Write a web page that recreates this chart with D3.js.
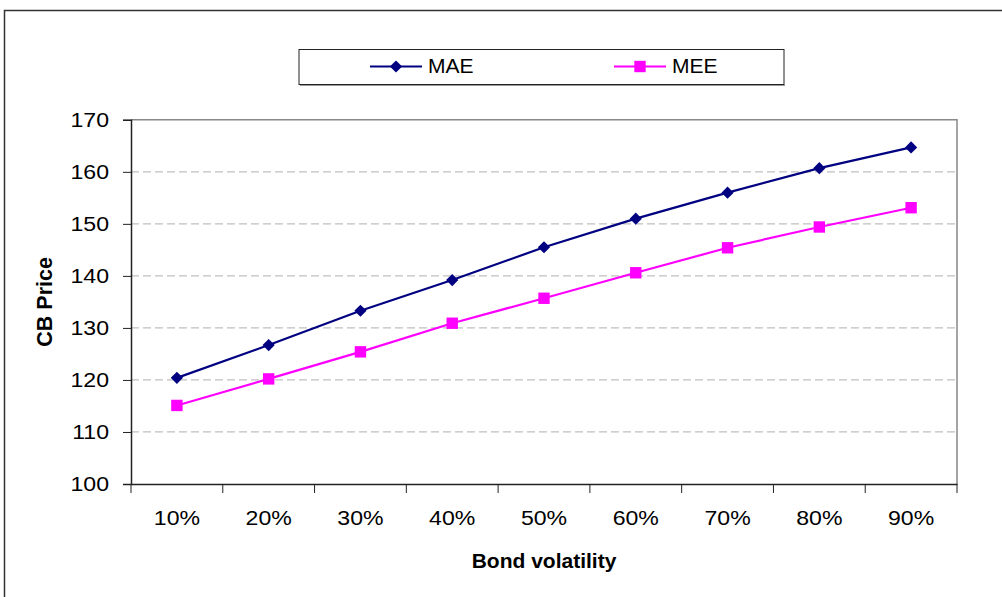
<!DOCTYPE html>
<html>
<head>
<meta charset="utf-8">
<script src="https://cdn.jsdelivr.net/npm/d3@7/dist/d3.min.js"></script>
<style>
  html, body { margin: 0; padding: 0; background: #fff; }
  svg { display: block; font-family: "Liberation Sans", Arial, sans-serif; }
</style>
</head>
<body>
<svg id="chart" width="1002" height="597"></svg>
<script>
// Convertible bond price by bond volatility, two pricing methods
const categories = ["10%", "20%", "30%", "40%", "50%", "60%", "70%", "80%", "90%"];
const maeValues = [120.4, 126.7, 133.3, 139.2, 145.5, 151.0, 156.0, 160.7, 164.7];
const meeValues = [115.1, 120.2, 125.4, 130.9, 135.7, 140.6, 145.4, 149.4, 153.1];
const yTicks = [100, 110, 120, 130, 140, 150, 160, 170];

const series = [
  { name: "MAE", values: maeValues, color: "#000080", symbol: d3.symbolDiamond2, size: 95 },
  { name: "MEE", values: meeValues, color: "#FF00FF", symbol: d3.symbolSquare, size: 130 }
];

const svg = d3.select("#chart");
const plot = { left: 131, right: 957, top: 119.8, bottom: 484 };

// Outer chart frame (runs off the right and bottom edges)
svg.append("rect")
  .attr("x", 4.5).attr("y", 10.5)
  .attr("width", 1010).attr("height", 600)
  .attr("fill", "none").attr("stroke", "#333").attr("stroke-width", 1.5);

const x = d3.scaleBand().domain(categories).range([plot.left, plot.right]).padding(0);
const y = d3.scaleLinear().domain([100, 170]).range([plot.bottom, plot.top]);

// Dashed horizontal gridlines
svg.append("g")
  .selectAll("line")
  .data(yTicks.filter(t => t > 100 && t < 170))
  .join("line")
  .attr("x1", plot.left).attr("x2", plot.right)
  .attr("y1", d => y(d)).attr("y2", d => y(d))
  .attr("stroke", "#c0c0c0").attr("stroke-width", 1.2)
  .attr("stroke-dasharray", "8,4");

// Plot area border: top and right edges
svg.append("path")
  .attr("d", `M${plot.left},${plot.top}H${plot.right}V${plot.bottom}`)
  .attr("fill", "none").attr("stroke", "#888").attr("stroke-width", 1.5);

// Y axis
const yAxis = svg.append("g")
  .attr("transform", `translate(${plot.left},0)`)
  .call(d3.axisLeft(y).tickValues(yTicks).tickSize(8).tickPadding(14).tickFormat(d3.format("d")));
yAxis.select(".domain").attr("stroke", "#222").attr("stroke-width", 1.5);
yAxis.selectAll(".tick line").attr("stroke", "#222").attr("stroke-width", 1);
yAxis.selectAll(".tick text")
  .attr("font-size", 21).attr("fill", "#000")
  .attr("font-family", "'Liberation Sans', Arial, sans-serif")
  .attr("x", 0)
  .attr("transform", "translate(-22,0) scale(1.1,1)");

// X axis: ticks sit on category boundaries
const xAxis = svg.append("g")
  .attr("transform", `translate(0,${plot.bottom})`)
  .call(d3.axisBottom(x).tickSize(0).tickPadding(26));
xAxis.select(".domain").attr("stroke", "#222").attr("stroke-width", 1.5);
xAxis.selectAll(".tick text")
  .attr("font-size", 21).attr("fill", "#000")
  .attr("font-family", "'Liberation Sans', Arial, sans-serif")
  .attr("transform", "scale(1.1,1)");
const boundaries = categories.map(c => x(c)).concat([x(categories[categories.length - 1]) + x.bandwidth()]);
xAxis.append("g")
  .selectAll("line")
  .data(boundaries)
  .join("line")
  .attr("x1", d => d).attr("x2", d => d)
  .attr("y1", 0).attr("y2", 9)
  .attr("stroke", "#222").attr("stroke-width", 1);

// Axis titles
svg.append("text")
  .attr("x", (plot.left + plot.right) / 2).attr("y", 568)
  .attr("text-anchor", "middle")
  .attr("font-size", 21).attr("font-weight", "bold")
  .text("Bond volatility");

svg.append("text")
  .attr("transform", `translate(52,${(plot.top + plot.bottom) / 2}) rotate(-90)`)
  .attr("text-anchor", "middle")
  .attr("font-size", 21.5).attr("font-weight", "bold")
  .text("CB Price");

// Series lines and markers
const cx = (d, i) => x(categories[i]) + x.bandwidth() / 2;
const line = d3.line().x(cx).y(d => y(d));

series.forEach(s => {
  svg.append("path")
    .datum(s.values)
    .attr("d", line)
    .attr("fill", "none")
    .attr("stroke", s.color)
    .attr("stroke-width", 2.2);
  svg.append("g")
    .selectAll("path")
    .data(s.values)
    .join("path")
    .attr("transform", (d, i) => `translate(${cx(d, i)},${y(d)})`)
    .attr("d", d3.symbol().type(s.symbol).size(s.size))
    .attr("fill", s.color);
});

// Legend
const legend = svg.append("g");
legend.append("rect")
  .attr("x", 299).attr("y", 49.5)
  .attr("width", 485).attr("height", 35)
  .attr("fill", "#fff").attr("stroke", "#222").attr("stroke-width", 1);
legend.append("line")
  .attr("x1", 300).attr("x2", 785).attr("y1", 85.5).attr("y2", 85.5)
  .attr("stroke", "#999").attr("stroke-width", 1);

const legendX = [370, 614];
series.forEach((s, i) => {
  const lx = legendX[i];
  const ly = 66.5;
  legend.append("line")
    .attr("x1", lx).attr("x2", lx + 52)
    .attr("y1", ly).attr("y2", ly)
    .attr("stroke", s.color).attr("stroke-width", 2.2);
  legend.append("path")
    .attr("transform", `translate(${lx + 26},${ly})`)
    .attr("d", d3.symbol().type(s.symbol).size(s.size))
    .attr("fill", s.color);
  legend.append("text")
    .attr("x", lx + 58).attr("y", 72.5)
    .attr("font-size", 21).attr("fill", "#000")
    .text(s.name);
});
</script>
</body>
</html>
